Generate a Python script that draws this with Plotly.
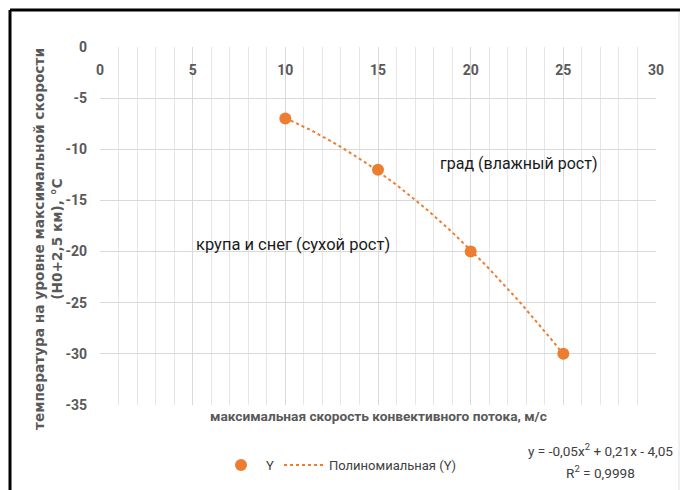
import numpy as np
import plotly.graph_objects as go

# Data
x_vals = [10, 15, 20, 25]
y_vals = [-7, -12, -20, -30]
series_name = "Y"
trend_name = "Полиномиальная (Y)"
equation_line1 = "y = -0,05x<sup>2</sup> + 0,21x - 4,05"
equation_line2 = "R<sup>2</sup> = 0,9998"
y_title = "температура на уровне максимальной скорости<br>(H0+2,5 км), °C"
x_title = "максимальная скорость конвективного потока, м/с"
label_hail = "град (влажный рост)"
label_snow = "крупа и снег (сухой рост)"
x_ticks = [0, 5, 10, 15, 20, 25, 30]
y_ticks = [0, -5, -10, -15, -20, -25, -30, -35]

# polynomial (order 2) trendline fitted to the data
coef = np.polyfit(x_vals, y_vals, 2)
xt = np.linspace(min(x_vals), max(x_vals), 60)
yt = np.polyval(coef, xt)

ORANGE = "#ED7D31"
GRID = "#D9D9D9"
TXT = "#595959"
NARROW = "Roboto"
WIDE = "DejaVu Sans"

W, H = 680, 490
L, R, T, B = 100, 24, 47, 85
pw = W - L - R
ph = H - T - B

def px(xp):
    return (xp - L) / pw

def py(yp):
    return (H - B - yp) / ph

fig = go.Figure()
fig.add_trace(go.Scatter(
    x=x_vals, y=y_vals, mode="markers", name=series_name,
    marker=dict(color=ORANGE, size=12),
))
fig.add_trace(go.Scatter(
    x=xt, y=yt, mode="lines", name=trend_name,
    line=dict(color=ORANGE, width=2, dash="dot"),
))

fig.update_layout(
    width=W, height=H,
    margin=dict(l=L, r=R, t=T, b=B, autoexpand=False),
    paper_bgcolor="white", plot_bgcolor="white",
    font=dict(family=NARROW, color=TXT),
    showlegend=True,
    legend=dict(
        orientation="h", x=px(339), y=py(465), xanchor="center", yanchor="middle",
        font=dict(size=13, color="#404040", family=NARROW),
        itemwidth=40,
    ),
    xaxis=dict(
        range=[0, 30], side="bottom", anchor="free", position=py(60),
        tickvals=x_ticks, ticktext=[str(v) for v in x_ticks],
        showgrid=True, gridcolor=GRID, gridwidth=1,
        minor=dict(dtick=1, tick0=0, showgrid=True, gridcolor="#E6E6E6", gridwidth=1),
        zeroline=False, showline=False, ticks="", automargin=False,
        tickfont=dict(size=14, color=TXT, family=NARROW, weight="bold"),
    ),
    yaxis=dict(
        range=[-35, 0], tickvals=y_ticks, ticktext=[str(v) for v in y_ticks],
        showgrid=True, gridcolor=GRID, gridwidth=1,
        zeroline=False, showline=False, ticks="", automargin=False,
        ticklabelstandoff=12,
        tickfont=dict(size=14, color=TXT, family=NARROW, weight="bold"),
    ),
)

def note(xp, yp, text, size, color, family, weight="normal", angle=0):
    fig.add_annotation(x=px(xp), y=py(yp), xref="paper", yref="paper",
                       xanchor="center", yanchor="middle",
                       text=text, showarrow=False, textangle=angle,
                       font=dict(size=size, color=color, family=family, weight=weight))

note(48, 239, y_title, 13.7, TXT, WIDE, "bold", -90)
note(378, 416, x_title, 13.7, TXT, NARROW, "bold")
note(600, 450, equation_line1, 13.6, "#404040", NARROW)
note(600, 472, equation_line2, 13.6, "#404040", NARROW)

fig.add_annotation(x=22.6, y=-11.35, text=label_hail, showarrow=False,
                   xanchor="center", yanchor="middle",
                   font=dict(size=16, color="#1a1a1a", family=NARROW))
fig.add_annotation(x=10.4, y=-19.35, text=label_snow, showarrow=False,
                   xanchor="center", yanchor="middle",
                   font=dict(size=16.5, color="#1a1a1a", family=NARROW))

# outer frame
fig.add_shape(type="line", xref="paper", yref="paper",
              x0=px(10), x1=px(680), y0=py(10), y1=py(10),
              line=dict(color="black", width=3))
fig.add_shape(type="line", xref="paper", yref="paper",
              x0=px(10), x1=px(10), y0=py(10), y1=py(490),
              line=dict(color="black", width=3))
fig.add_shape(type="line", xref="paper", yref="paper",
              x0=px(679), x1=px(679), y0=py(12), y1=py(490),
              line=dict(color="#E0E0E0", width=1))

fig.write_html("out.html", config={"displayModeBar": False},
               post_script="document.body.style.margin='0';")
